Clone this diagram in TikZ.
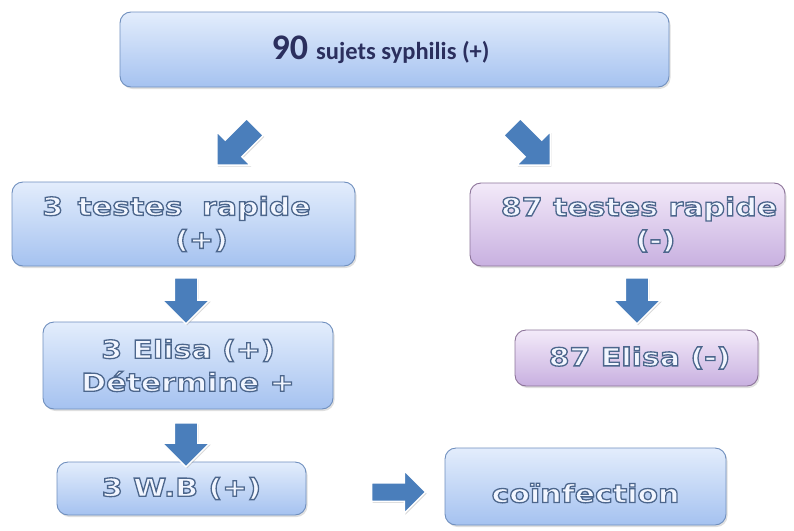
\documentclass[tikz,border=0pt]{standalone}
\usepackage{fontspec}
\setmainfont{Carlito}
\newfontfamily\outfont[FakeStretch=1.2]{DejaVu Sans}
\usetikzlibrary{shapes.arrows,shadows}
\definecolor{bluetop}{HTML}{E3EDFC}
\definecolor{bluebot}{HTML}{A5C2F0}
\definecolor{blueedge}{HTML}{6F8FBE}
\definecolor{purtop}{HTML}{F3EAF9}
\definecolor{purbot}{HTML}{C8B0E0}
\definecolor{puredge}{HTML}{8C7399}
\definecolor{arrowblue}{HTML}{4A7EBB}
\definecolor{inner}{HTML}{F2F6FF}
\definecolor{navy}{HTML}{2B2F5E}
\newcommand{\otext}[1]{\textcolor{inner}{\special{pdf:code q 0.30 0.40 0.55 RG 1.3 w 2 Tr}#1\special{pdf:code Q}}}
\tikzset{
  boxbase/.style={rounded corners=11pt, line width=0.9pt, align=center, inner sep=0pt,
    drop shadow={opacity=0.25, shadow xshift=1.5pt, shadow yshift=-2pt}},
  bluebox/.style={boxbase, draw=blueedge, top color=bluetop, bottom color=bluebot},
  purbox/.style={boxbase, draw=puredge, top color=purtop, bottom color=purbot},
  outtext/.style={font=\outfont\bfseries\fontsize{25}{35}\selectfont},
  blockarrow/.style={single arrow, fill=arrowblue, draw=white, line width=1.5pt,
    inner xsep=0pt, inner ysep=11pt, single arrow head extend=12pt,
    drop shadow={opacity=0.3, shadow xshift=1pt, shadow yshift=-1.5pt}},
}
\begin{document}
\begin{tikzpicture}[x=1pt,y=-1pt]
\useasboundingbox (0,0) rectangle (794,530);
% boxes
\node[bluebox, minimum width=549pt, minimum height=75pt] (top) at (394.5,49.5)
  {\textcolor{navy}{\bfseries\fontsize{36}{38}\selectfont 90 \fontsize{24.5}{27}\selectfont sujets syphilis (+)}\hspace*{28pt}};
\node[bluebox, outtext, minimum width=343pt, minimum height=84pt] (l1) at (183.5,224)
  {\otext{3\hspace{4pt} testes\hspace{9pt} rapide}\hspace*{14pt}\\[-2pt]\hspace*{36pt}\otext{(+)}};
\node[purbox, outtext, minimum width=315pt, minimum height=83pt] (r1) at (627.5,224.5)
  {\hspace*{23pt}\otext{87 testes rapide}\\[-2pt]\hspace*{56pt}\otext{(-)}};
\node[bluebox, outtext, minimum width=290pt, minimum height=87pt] (l2) at (188,365.5)
  {\otext{3 Elisa (+)}\\[-2pt]\otext{Détermine +}};
\node[purbox, outtext, minimum width=243pt, minimum height=56pt] (r2) at (636.5,358)
  {\hspace*{6pt}\otext{87 Elisa (-)}};
\node[bluebox, outtext, minimum width=281pt, minimum height=77pt] (co) at (585.5,486.5)
  {\raisebox{-16pt}[0pt][0pt]{\otext{coïnfection}}};
\node[bluebox, outtext, minimum width=249pt, minimum height=53pt] (l3) at (181.5,488.5)
  {\otext{3 W.B (+)}};
% block arrows
\node[blockarrow, minimum height=54pt, rotate=225] (a1) at (240,142) {};
\node[blockarrow, minimum height=54pt, rotate=-45] (a2) at (527,142) {};
\node[blockarrow, minimum height=46pt, rotate=-90] (a3) at (186,295) {};
\node[blockarrow, minimum height=46pt, rotate=-90] (a4) at (637,295) {};
\node[blockarrow, minimum height=44pt, rotate=-90] (a5) at (186,439) {};
\node[blockarrow, minimum height=54pt, inner ysep=8.5pt] (a6) at (394,492) {};
\end{tikzpicture}
\end{document}
